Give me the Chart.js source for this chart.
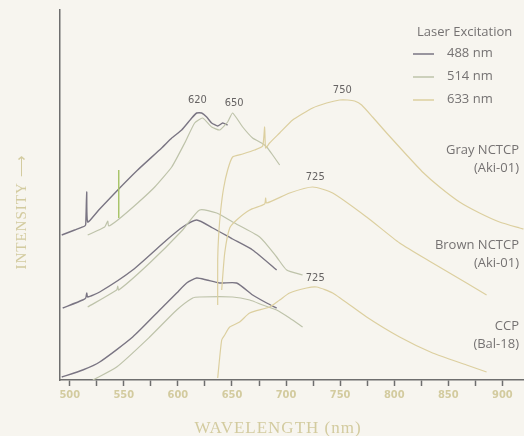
<!DOCTYPE html>
<html>
<head>
<meta charset="utf-8">
<script src="https://cdn.jsdelivr.net/npm/chart.js@4.4.1/dist/chart.umd.min.js"></script>
<style>
  html, body { margin: 0; padding: 0; background: #f7f5ef; }
  #wrap { width: 524px; height: 436px; }
</style>
</head>
<body>
<div id="wrap"><canvas id="spec" width="524" height="436"></canvas></div>
<script>
/* ===== DATA (wavelength nm / intensity a.u.) ===== */
// Gray NCTCP (Aki-01)
const grayWl488 = [492.6, 504.6, 513.9, 514.8, 515.7, 516.6, 527.7, 544.4, 562.8, 585, 594.3, 603.5, 612.8, 617.4, 622, 626.6, 631.2, 636.8, 641.4, 646];
const grayIn488 = [145, 150, 154, 156, 188, 158, 171, 190, 210, 232, 242, 250, 262, 267, 267, 263, 257, 254, 257, 255];
const grayWl514 = [516.6, 532.3, 535.1, 536, 544.4, 562.8, 578.6, 594.3, 606.3, 615.5, 622.9, 631.2, 638.6, 646, 650.6, 659.9, 669.1, 677.4, 682.1, 687.6, 694.1];
const grayIn514 = [145, 153, 159, 154, 160, 177, 193, 213, 237, 257, 262, 253, 250, 258, 267, 253, 242, 237, 233, 225, 215];
const grayWl633 = [636.8, 636.8, 637.7, 639.6, 642.3, 646, 650.6, 659.9, 671, 678.4, 680.2, 681.1, 684.8, 694.1, 706.1, 724.6, 737.5, 749.5, 756.9, 763.4, 769.9, 780, 793, 811.5, 826.2, 842, 860.4, 878.9, 897.4, 915.9, 919.6];
const grayIn633 = [75, 120, 145, 170, 192, 210, 223, 226, 230, 234, 253, 232, 237, 247, 260, 272, 277, 280, 280, 279, 275, 263, 247, 225, 208, 193, 178, 167, 158, 152, 151];
// laser line seen in the 514 trace
const laserWl = [545.3, 545.3];
const laserIn = [162, 210];

// Brown NCTCP (Aki-01)
const brownWl488 = [493.5, 512, 514.8, 515.7, 516.6, 527.7, 558.2, 589.6, 604.4, 617.4, 632.2, 650.6, 669.1, 691.3];
const brownIn488 = [72, 80, 82, 87, 83, 88, 110, 140, 153, 160, 152, 141, 130, 110];
const brownWl514 = [516.6, 543.4, 544.4, 545.3, 573.9, 604.4, 620.1, 635.9, 650.6, 675.6, 691.3, 700.6, 715.3];
const brownIn514 = [73, 90, 94, 90, 117, 150, 170, 167, 158, 143, 123, 110, 105];
const brownWl633 = [640.5, 643.3, 647.9, 654.3, 666.4, 680.2, 681.1, 682.1, 703.3, 724.6, 743.1, 774.5, 805, 835.5, 866.9, 885.4];
const brownIn633 = [90, 127, 152, 160, 170, 176, 182, 177, 187, 193, 187, 163, 137, 117, 97, 85];

// CCP (Bal-18)
const ccpWl488 = [492.6, 512, 527.7, 558.2, 583.2, 598.9, 608.1, 617.4, 626.6, 638.6, 654.3, 669.1, 682.1, 691.3];
const ccpIn488 = [3, 10, 18, 43, 70, 87, 97, 102, 100, 97, 97, 85, 77, 72];
const ccpWl514 = [521.3, 543.4, 573.9, 598.9, 613.7, 620.1, 650.6, 666.4, 678.4, 691.3, 703.3, 715.3];
const ccpIn514 = [0, 13, 43, 70, 82, 83, 83, 80, 75, 70, 62, 53];
const ccpWl633 = [636.8, 640.5, 643.3, 647.9, 657.1, 666.4, 684.8, 694.1, 703.3, 719, 728.3, 743.1, 774.5, 805, 835.5, 866.9, 885.4];
const ccpIn633 = [2, 40, 45, 53, 58, 67, 73, 80, 87, 92, 93, 87, 63, 43, 27, 15, 8];

// peak labels
const peakText = ["620", "650", "750", "725", "725"];
const peakTextWl = [618, 652, 752, 727, 727];
const peakTextIn = [280, 277, 290, 203, 102];

// axis ticks + legend
const xTickValues = [500, 525, 550, 575, 600, 625, 650, 675, 700, 725, 750, 775, 800, 825, 850, 875, 900];
const laserNames = ["488 nm", "514 nm", "633 nm"];
const sampleNames = [["Gray NCTCP", "(Aki-01)"], ["Brown NCTCP", "(Aki-01)"], ["CCP", "(Bal-18)"]];

/* ===== COLOURS ===== */
const C488 = "#7a7583";
const C514 = "#bec3aa";
const C633 = "#dccf9f";
const CLASER = "#a9c46a";
const AXIS = "#6e6e6e";
const TAN = "#d3cb9f";
const LABEL = "#757272";

function pts(xs, ys) {
    return xs.map((x, i) => ({ x: x, y: ys[i] }));
}

function trace(xs, ys, color, w, t) {
    return {
        data: pts(xs, ys),
        borderColor: color,
        borderWidth: w,
        showLine: true,
        pointRadius: 0,
        tension: t || 0
    };
}

/* ===== TEXT ON TOP (labels, legend, axis titles) ===== */
const textPlugin = {
    id: "textPlugin",
    afterDraw(chart) {
        const ctx = chart.ctx;
        const xs = chart.scales.x;
        const ys = chart.scales.y;
        const area = chart.chartArea;
        ctx.save();

        // peak wavelengths
        ctx.font = '11px "Liberation Sans Narrow", "DejaVu Sans Condensed", sans-serif';
        ctx.fillStyle = "#666363";
        ctx.textAlign = "center";
        ctx.textBaseline = "middle";
        peakText.forEach((t, i) => {
            ctx.fillText(t, xs.getPixelForValue(peakTextWl[i]), ys.getPixelForValue(peakTextIn[i]));
        });

        // sample names, right aligned
        ctx.font = '13px "Open Sans", sans-serif';
        ctx.fillStyle = LABEL;
        ctx.textAlign = "right";
        const sampleY = [150, 245, 326];
        sampleNames.forEach((pair, i) => {
            ctx.fillText(pair[0], area.right - 5, sampleY[i]);
            ctx.fillText(pair[1], area.right - 5, sampleY[i] + 18);
        });

        // legend
        ctx.textAlign = "left";
        ctx.fillText("Laser Excitation", 417, 32);
        const legColors = [C488, C514, C633];
        laserNames.forEach((t, i) => {
            const y = 53 + i * 23;
            ctx.strokeStyle = legColors[i];
            ctx.lineWidth = 1.5;
            ctx.beginPath();
            ctx.moveTo(413, y + 1);
            ctx.lineTo(434, y + 1);
            ctx.stroke();
            ctx.fillText(t, 447, y);
        });

        // axis titles
        ctx.fillStyle = TAN;
        ctx.font = '17px "Liberation Serif", serif';
        ctx.letterSpacing = "1px";
        ctx.textAlign = "center";
        ctx.fillText("WAVELENGTH (nm)", 278, 429);

        ctx.translate(22, 212);
        ctx.rotate(-Math.PI / 2);
        ctx.font = '15px "Liberation Serif", serif';
        ctx.fillText("INTENSITY \u27F6", 0, 0);
        ctx.restore();
    }
};

/* ===== CHART ===== */
new Chart(document.getElementById("spec"), {
    type: "scatter",
    data: {
        datasets: [
            trace(grayWl633, grayIn633, C633, 1.2, 0.15),
            trace(brownWl633, brownIn633, C633, 1.2, 0.2),
            trace(ccpWl633, ccpIn633, C633, 1.2, 0.2),
            trace(grayWl514, grayIn514, C514, 1.2, 0.15),
            trace(brownWl514, brownIn514, C514, 1.2, 0.2),
            trace(ccpWl514, ccpIn514, C514, 1.2, 0.2),
            trace(laserWl, laserIn, CLASER, 1.5),
            trace(grayWl488, grayIn488, C488, 1.4, 0.15),
            trace(brownWl488, brownIn488, C488, 1.4, 0.2),
            trace(ccpWl488, ccpIn488, C488, 1.4, 0.2)
        ]
    },
    options: {
        responsive: false,
        animation: false,
        devicePixelRatio: 1,
        layout: { padding: { top: 10, left: 0, right: 0, bottom: 0 } },
        plugins: {
            legend: { display: false },
            tooltip: { enabled: false }
        },
        scales: {
            x: {
                type: "linear",
                min: 491,
                max: 920,
                afterBuildTicks: (s) => { s.ticks = xTickValues.map(v => ({ value: v })); },
                afterFit: (s) => { s.height = 56; },
                ticks: {
                    autoSkip: false,
                    maxRotation: 0,
                    padding: 3,
                    color: TAN,
                    font: { family: '"Liberation Sans Narrow", "DejaVu Sans Condensed", sans-serif', size: 11, weight: "bold" },
                    callback: (v) => (v % 50 === 0 ? String(v) : "")
                },
                grid: {
                    drawOnChartArea: false,
                    drawTicks: true,
                    tickLength: 6,
                    tickWidth: 1.5,
                    tickColor: AXIS
                },
                border: { color: AXIS, width: 1.5 }
            },
            y: {
                min: 0,
                max: 370,
                afterFit: (s) => { s.width = 60; },
                ticks: { display: false },
                grid: { drawOnChartArea: false, drawTicks: false },
                border: { color: AXIS, width: 1.5 }
            }
        }
    },
    plugins: [textPlugin]
});
</script>
</body>
</html>
